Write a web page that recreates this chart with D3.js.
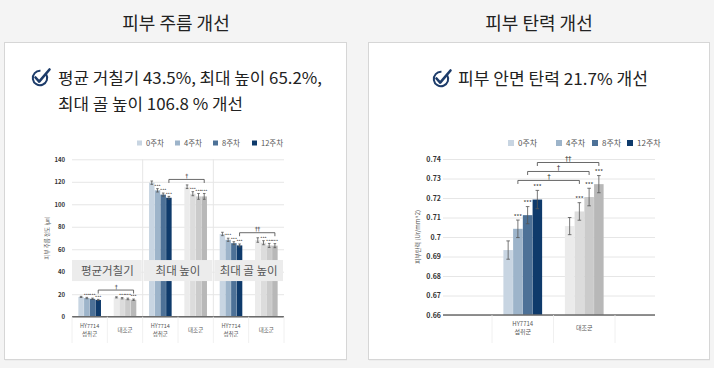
<!DOCTYPE html>
<html>
<head>
<meta charset="utf-8">
<script src="https://cdn.jsdelivr.net/npm/d3@7"></script>
<style>
  body { margin: 0; background: #f4f4f4; }
  svg { display: block; font-family: "Noto Sans CJK KR", "Noto Sans", sans-serif; }
</style>
</head>
<body>
<svg id="chart" width="714" height="368"></svg>
<script>
// ---- data ----
const weeks = ["0주차", "4주차", "8주차", "12주차"];
const groups = ["HY7714 섭취군", "대조군"];
const measures = ["평균거칠기", "최대 높이", "최대 골 높이"];

// wrinkle (㎛)
const roughHY = [17.6, 16.6, 15.9, 14.9];
const roughCtrl = [17.2, 16.4, 15.8, 15.1];
const peakHY = [119.2, 112.4, 108.6, 105.8];
const peakCtrl = [115.6, 109.4, 107.0, 107.0];
const valleyHY = [73.6, 68.4, 65.4, 63.4];
const valleyCtrl = [68.2, 65.8, 63.4, 63.2];
const roughErrHY = [0.5, 0.6, 0.6, 0.5];
const roughErrCtrl = [0.5, 0.6, 0.7, 0.6];
const peakErrHY = [1.5, 1.5, 1.4, 1.2];
const peakErrCtrl = [1.6, 1.8, 2.6, 2.6];
const valleyErrHY = [1.5, 1.4, 1.3, 1.3];
const valleyErrCtrl = [2.0, 1.8, 1.8, 1.8];
const wrinkleSig = ["†", "†", "††"];
const wrinkleTicks = [0, 20, 40, 60, 80, 100, 120, 140];

// elasticity
const elasticHY = [0.6933, 0.7042, 0.7112, 0.7192];
const elasticCtrl = [0.7056, 0.7131, 0.7205, 0.7271];
const elasticErrHY = [0.0047, 0.0045, 0.0044, 0.0047];
const elasticErrCtrl = [0.0044, 0.0045, 0.0045, 0.0044];
const elasticSigWeeks = ["4주차", "8주차", "12주차"];
const elasticSig = ["†", "†", "††"];
const elasticTicks = [0.66, 0.67, 0.68, 0.69, 0.70, 0.71, 0.72, 0.73, 0.74];
const elasticTickLabels = ["0.66", "0.67", "0.68", "0.69", "0.7", "0.71", "0.72", "0.73", "0.74"];

const stars = ["", "***", "***", "***"];
const hyColors = ["#c8d5e2", "#9db4ca", "#4d7197", "#0e3a6b"];
const ctrlColors = ["#ebebeb", "#dcdcdc", "#cbcbcb", "#b8b8b8"];
const FONT = '"Noto Sans CJK KR", "Noto Sans", sans-serif';

const svg = d3.select("#chart");

// ---- panels and titles ----
const panels = [
  { x: 4.5, y: 42.5, w: 342, h: 317, title: "피부 주름 개선", tx: 176 },
  { x: 368.5, y: 42.5, w: 341, h: 317, title: "피부 탄력 개선", tx: 539 }
];
panels.forEach(p => {
  svg.append("rect").attr("x", p.x + 0.5).attr("y", p.y + 1).attr("width", p.w).attr("height", p.h)
    .attr("fill", "#e6e6e6");
  svg.append("rect").attr("x", p.x).attr("y", p.y).attr("width", p.w).attr("height", p.h)
    .attr("fill", "#fff").attr("stroke", "#d6d6d6").attr("stroke-width", 1);
  svg.append("text").attr("x", p.tx).attr("y", 30).attr("text-anchor", "middle")
    .attr("font-size", 18).attr("font-weight", 400).attr("fill", "#222").text(p.title);
});

function checkIcon(cx, cy) {
  const g = svg.append("g").attr("transform", `translate(${cx},${cy})`);
  const arc = d3.arc().innerRadius(6.2).outerRadius(8.2)
    .startAngle(Math.PI * 0.32).endAngle(Math.PI * 2.02);
  g.append("path").attr("d", arc()).attr("fill", "#1d3c6a");
  g.append("path").attr("d", "M-4.5,-0.5 L-0.8,3.6 L9.5,-8.5")
    .attr("fill", "none").attr("stroke", "#1d3c6a").attr("stroke-width", 2.6)
    .attr("stroke-linecap", "round").attr("stroke-linejoin", "round");
}

checkIcon(40, 78);
svg.append("text").attr("x", 58).attr("y", 84).attr("font-size", 16).attr("fill", "#222")
  .attr("textLength", 264).attr("lengthAdjust", "spacingAndGlyphs")
  .text("평균 거칠기 43.5%, 최대 높이 65.2%,");
svg.append("text").attr("x", 58).attr("y", 109.5).attr("font-size", 16).attr("fill", "#222")
  .attr("textLength", 185).attr("lengthAdjust", "spacingAndGlyphs")
  .text("최대 골 높이 106.8 % 개선");

checkIcon(441, 79);
svg.append("text").attr("x", 458).attr("y", 85).attr("font-size", 16.5).attr("fill", "#222")
  .attr("textLength", 190).attr("lengthAdjust", "spacingAndGlyphs")
  .text("피부 안면 탄력 21.7% 개선");

// ---- helpers ----
function legend(g, xs, y, size, fs) {
  weeks.forEach((w, i) => {
    g.append("rect").attr("x", xs[i]).attr("y", y - size / 2).attr("width", size).attr("height", size)
      .attr("fill", hyColors[i]);
    g.append("text").attr("x", xs[i] + size + 4).attr("y", y).attr("dy", "0.35em")
      .attr("font-size", fs).attr("fill", "#555").text(w);
  });
}

function yAxis(g, y, x, width, ticks, fmt, pad, fs) {
  const ax = g.append("g").attr("transform", `translate(${x},0)`)
    .call(d3.axisLeft(y).tickValues(ticks).tickSize(-width).tickPadding(pad).tickFormat(fmt));
  ax.select(".domain").remove();
  ax.selectAll(".tick line").attr("stroke", "#e6e6e6");
  ax.selectAll(".tick text").attr("font-size", fs).attr("font-weight", "bold")
    .attr("fill", "#333").attr("font-family", FONT);
}

function bracket(g, xa, xb, yv, mark, fs) {
  g.append("path").attr("d", `M${xa},${yv + 3.5}V${yv}H${xb}V${yv + 3.5}`)
    .attr("fill", "none").attr("stroke", "#444").attr("stroke-width", 0.8);
  g.append("text").attr("x", (xa + xb) / 2).attr("y", yv - 1.5).attr("text-anchor", "middle")
    .attr("font-family", "DejaVu Sans").attr("letter-spacing", -0.5)
    .attr("font-size", fs).attr("fill", "#333").text(mark);
}

function drawBars(g, rows, x0, x1, y, cap, starFs, starGap) {
  g.selectAll(null).data(rows).join("rect")
    .attr("x", d => x0(d.key) + x1(d.week))
    .attr("y", d => y(d.value))
    .attr("width", x1.bandwidth())
    .attr("height", d => y.range()[0] - y(d.value))
    .attr("fill", d => d.color);
  const eb = g.selectAll(null).data(rows).join("g")
    .attr("transform", d => `translate(${x0(d.key) + x1(d.week) + x1.bandwidth() / 2},0)`);
  eb.append("path")
    .attr("d", d => `M${-cap},${y(d.value + d.err)}H${cap}M0,${y(d.value + d.err)}V${y(d.value - d.err)}M${-cap},${y(d.value - d.err)}H${cap}`)
    .attr("stroke", "#555").attr("stroke-width", 0.8).attr("fill", "none");
  eb.append("text").attr("y", d => y(d.value + d.err) - starGap).attr("text-anchor", "middle")
    .attr("font-size", starFs).attr("fill", "#333").text(d => d.star);
}

function xLabels(g, x0, y0, keyToGroup, fs) {
  const bounds = [x0.range()[0]].concat(x0.domain().map(k => x0(k) + x0.bandwidth()));
  g.selectAll(null).data(bounds).join("line")
    .attr("x1", d => d).attr("x2", d => d).attr("y1", y0).attr("y2", 343)
    .attr("stroke", "#ececec").attr("stroke-width", 0.8);
  x0.domain().forEach(k => {
    const grp = keyToGroup(k);
    const cx = x0(k) + x0.bandwidth() / 2;
    const t = g.append("text").attr("x", cx).attr("text-anchor", "middle")
      .attr("font-size", fs).attr("fill", "#555");
    if (grp === groups[0]) {
      const parts = grp.split(" ");
      t.append("tspan").attr("x", cx).attr("y", y0 + 11).text(parts[0]);
      t.append("tspan").attr("x", cx).attr("y", y0 + 19).text(parts[1]);
    } else {
      t.attr("y", y0 + 15).text(grp);
    }
  });
}

// ---- left chart: wrinkles ----
{
  const g = svg.append("g");
  const wrinkleSets = [
    { hy: roughHY, ctrl: roughCtrl, hyErr: roughErrHY, ctrlErr: roughErrCtrl },
    { hy: peakHY, ctrl: peakCtrl, hyErr: peakErrHY, ctrlErr: peakErrCtrl },
    { hy: valleyHY, ctrl: valleyCtrl, hyErr: valleyErrHY, ctrlErr: valleyErrCtrl }
  ];
  const keys = measures.flatMap(m => groups.map(gr => m + "|" + gr));
  const x0 = d3.scaleBand().domain(keys).range([72, 284]);
  const bw = x0.bandwidth();
  const x1 = d3.scaleBand().domain(weeks).range([bw * 0.18, bw * 0.82]).paddingInner(0.04);
  const y = d3.scaleLinear().domain([0, 140]).range([316.7, 159.3]);

  yAxis(g, y, 72, 212, wrinkleTicks, d3.format("d"), 7, 6);
  [keys[2], keys[4]].forEach(k => {
    g.append("line").attr("x1", x0(k)).attr("x2", x0(k)).attr("y1", y(140)).attr("y2", y(0))
      .attr("stroke", "#e6e6e6").attr("stroke-width", 1);
  });

  const rows = [];
  measures.forEach((m, mi) => {
    const s = wrinkleSets[mi];
    weeks.forEach((w, wi) => {
      rows.push({ key: m + "|" + groups[0], week: w, value: s.hy[wi], err: s.hyErr[wi], color: hyColors[wi], star: stars[wi] });
      rows.push({ key: m + "|" + groups[1], week: w, value: s.ctrl[wi], err: s.ctrlErr[wi], color: ctrlColors[wi], star: stars[wi] });
    });
  });
  drawBars(g, rows, x0, x1, y, 1.3, 4.5, 0.8);

  // significance brackets between 12-week bars
  measures.forEach((m, mi) => {
    const s = wrinkleSets[mi];
    const xa = x0(m + "|" + groups[0]) + x1(weeks[3]) + x1.bandwidth() / 2;
    const xb = x0(m + "|" + groups[1]) + x1(weeks[3]) + x1.bandwidth() / 2;
    const top = d3.max([s.hy[3]].concat(s.ctrl)) + 6.5;
    bracket(g, xa, xb, y(top), wrinkleSig[mi], 6);
  });

  // grey label band over the bars
  measures.forEach((m, mi) => {
    const xs = x0(m + "|" + groups[0]);
    g.append("rect").attr("x", xs + (mi ? 1 : 0)).attr("y", y(50.4))
      .attr("width", bw * 2 - (mi ? 2 : 1)).attr("height", y(31.7) - y(50.4)).attr("fill", "#ececec");
    g.append("text").attr("x", xs + bw).attr("y", (y(50.4) + y(31.7)) / 2).attr("dy", "0.35em")
      .attr("text-anchor", "middle").attr("font-size", 11.5).attr("fill", "#555").text(m);
  });

  g.append("line").attr("x1", 72).attr("x2", 284).attr("y1", y(0)).attr("y2", y(0))
    .attr("stroke", "#6b6b6b").attr("stroke-width", 1.4);
  xLabels(g, x0, y(0), k => k.split("|")[1], 5.5);
  legend(g, [137, 175, 213, 252], 143, 5, 7.5);
  g.append("text").attr("transform", `translate(49,${(y(0) + y(140)) / 2}) rotate(-90)`)
    .attr("text-anchor", "middle").attr("font-size", 5.5).attr("fill", "#555").text("피부 주름 정도 (㎛)");
}

// ---- right chart: elasticity ----
{
  const g = svg.append("g");
  const x0 = d3.scaleBand().domain(groups).range([492, 615]);
  const bw = x0.bandwidth();
  const x1 = d3.scaleBand().domain(weeks).range([bw * 0.185, bw * 0.815]).paddingInner(0.02);
  const y = d3.scaleLinear().domain([0.66, 0.74]).range([315, 159]);

  yAxis(g, y, 443, 212, elasticTicks, (d, i) => elasticTickLabels[i], 2, 7);

  const rows = [];
  weeks.forEach((w, wi) => {
    rows.push({ key: groups[0], week: w, value: elasticHY[wi], err: elasticErrHY[wi], color: hyColors[wi], star: stars[wi] });
    rows.push({ key: groups[1], week: w, value: elasticCtrl[wi], err: elasticErrCtrl[wi], color: ctrlColors[wi], star: stars[wi] });
  });
  drawBars(g, rows, x0, x1, y, 1.8, 6, 1.2);

  elasticSigWeeks.forEach((w, i) => {
    const xa = x0(groups[0]) + x1(w) + x1.bandwidth() / 2;
    const xb = x0(groups[1]) + x1(w) + x1.bandwidth() / 2;
    bracket(g, xa, xb, y(0.729 + i * 0.0046), elasticSig[i], 7);
  });

  g.append("line").attr("x1", 443).attr("x2", 655).attr("y1", y(0.66)).attr("y2", y(0.66))
    .attr("stroke", "#6b6b6b").attr("stroke-width", 1.4);
  xLabels(g, x0, y(0.66), k => k, 6);
  legend(g, [508, 556, 592, 627], 143, 6, 8);
  g.append("text").attr("transform", `translate(420,${(y(0.66) + y(0.74)) / 2}) rotate(-90)`)
    .attr("text-anchor", "middle").attr("font-size", 6).attr("fill", "#555").text("피부탄력 (Ur/mm^2)");
}
</script>
</body>
</html>
